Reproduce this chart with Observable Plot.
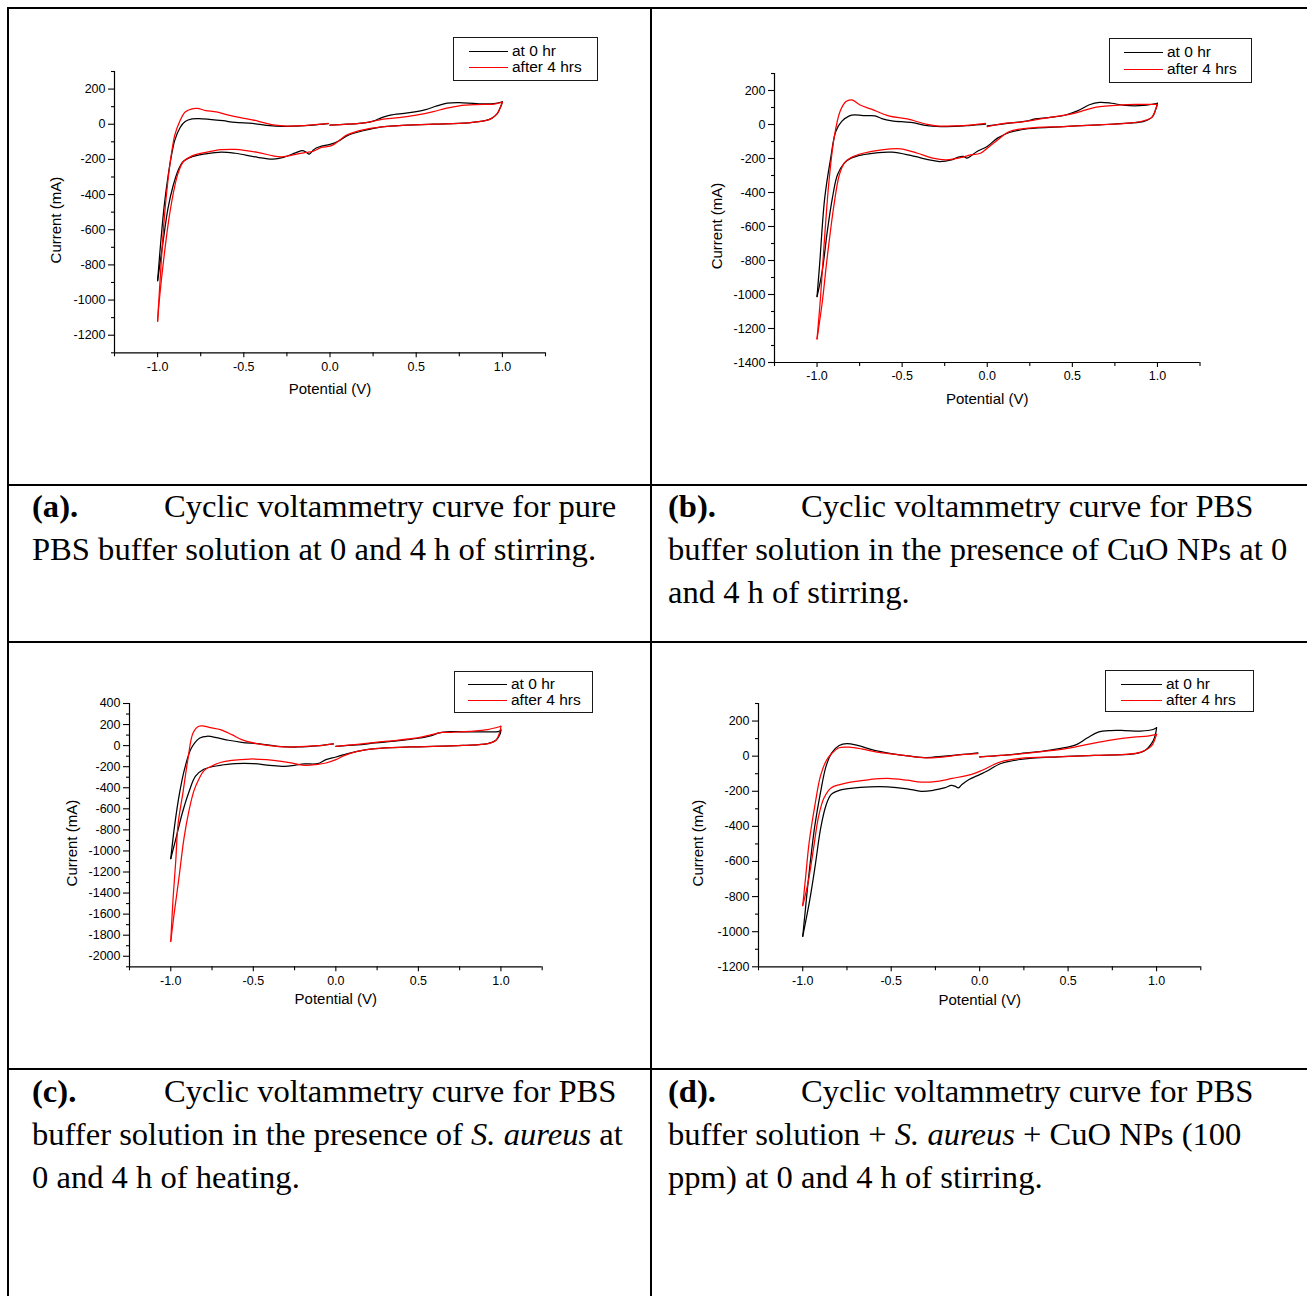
<!DOCTYPE html>
<html>
<head>
<meta charset="utf-8">
<script src="https://cdn.jsdelivr.net/npm/d3@7"></script>
<script src="https://cdn.jsdelivr.net/npm/@observablehq/plot@0.6"></script>
<style>
  html, body { margin: 0; padding: 0; background: #fff; }
  #page { position: relative; width: 1307px; height: 1296px; overflow: hidden; background: #fff; }
  .rule { position: absolute; background: #000; }
  .chart { position: absolute; }
  .cap { position: absolute; font-family: "Liberation Serif", "Times New Roman", serif; font-size: 32.6px;
         line-height: 43px; white-space: nowrap; color: #000; }
  .legend { position: absolute; box-sizing: border-box; border: 1px solid #1a1a1a; background: #fff;
            font-family: "Liberation Sans", Arial, sans-serif; font-size: 15.5px; color: #000; }
  .legend .row { position: absolute; left: 0; height: 16px; line-height: 16px; white-space: nowrap; }
  .legend .swatch { position: absolute; height: 0; border-top: 1.3px solid; top: 8px; }
  .legend .lab { position: absolute; top: 0; }
</style>
</head>
<body>
<div id="page"></div>
<script>
// Cyclic voltammograms: [potential (V), current (mA)] in sweep order,
// 0 V -> +1.0 V -> -1.0 V -> back to 0 V.

// (a) pure PBS buffer
const pbs0h = [
  [0.00,-5],[0.10,0],[0.20,8],[0.25,18],[0.30,38],[0.35,52],[0.45,64],[0.55,82],[0.62,104],[0.68,120],[0.75,123],[0.85,117],[0.95,117],[1.00,128],
  [0.99,100],[0.97,60],[0.94,35],[0.90,20],[0.80,8],[0.60,0],[0.40,-8],[0.30,-15],[0.20,-35],[0.10,-65],[0.05,-95],[0.00,-115],[-0.05,-125],[-0.08,-135],[-0.10,-150],[-0.12,-170],[-0.14,-158],[-0.16,-150],[-0.20,-163],[-0.27,-188],[-0.33,-198],[-0.42,-188],[-0.55,-165],[-0.63,-158],[-0.72,-168],[-0.80,-185],[-0.85,-210],[-0.88,-260],[-0.91,-350],[-0.94,-480],[-0.97,-680],[-1.00,-890],
  [-0.98,-650],[-0.96,-450],[-0.94,-300],[-0.92,-180],[-0.90,-90],[-0.87,-20],[-0.84,15],[-0.80,30],[-0.76,32],[-0.70,28],[-0.62,20],[-0.55,10],[-0.45,5],[-0.35,-8],[-0.28,-12],[-0.20,-10],[-0.10,-5],[-0.01,3]
];
const pbs4h = [
  [0.00,-5],[0.10,0],[0.20,8],[0.25,16],[0.30,28],[0.40,38],[0.50,52],[0.60,72],[0.67,90],[0.75,105],[0.85,112],[0.95,115],[1.00,125],
  [0.99,100],[0.97,60],[0.94,35],[0.90,20],[0.80,8],[0.60,0],[0.40,-8],[0.30,-15],[0.20,-30],[0.10,-60],[0.03,-110],[0.00,-125],[-0.05,-132],[-0.10,-155],[-0.14,-160],[-0.20,-172],[-0.28,-185],[-0.33,-180],[-0.42,-160],[-0.55,-143],[-0.63,-145],[-0.72,-160],[-0.80,-180],[-0.85,-212],[-0.88,-275],[-0.90,-350],[-0.93,-510],[-0.96,-730],[-0.99,-1000],[-1.00,-1120],
  [-0.98,-800],[-0.96,-520],[-0.94,-320],[-0.92,-170],[-0.90,-60],[-0.87,20],[-0.84,70],[-0.80,88],[-0.77,90],[-0.72,78],[-0.66,70],[-0.60,55],[-0.52,38],[-0.45,25],[-0.38,8],[-0.32,-5],[-0.25,-10],[-0.15,-8],[-0.05,0],[-0.01,5]
];

// (b) PBS + CuO NPs
const cuo0h = [
  [0.00,-8],[0.13,8],[0.23,20],[0.28,33],[0.36,41],[0.45,53],[0.53,80],[0.60,116],[0.66,130],[0.73,125],[0.81,112],[0.92,112],[1.00,125],
  [0.99,90],[0.97,45],[0.92,18],[0.83,8],[0.66,-2],[0.45,-12],[0.24,-25],[0.13,-47],[0.06,-80],[0.00,-129],[-0.06,-159],[-0.10,-188],[-0.12,-198],[-0.14,-188],[-0.17,-192],[-0.21,-208],[-0.28,-218],[-0.34,-208],[-0.45,-182],[-0.56,-163],[-0.64,-165],[-0.73,-178],[-0.80,-198],[-0.84,-227],[-0.88,-296],[-0.91,-433],[-0.94,-630],[-0.97,-865],[-1.00,-1012],
  [-0.985,-825],[-0.955,-433],[-0.92,-198],[-0.89,-41],[-0.855,18],[-0.81,51],[-0.78,57],[-0.73,52],[-0.66,51],[-0.62,35],[-0.56,22],[-0.45,12],[-0.34,-8],[-0.24,-12],[-0.11,-6],[-0.01,2]
];
const cuo4h = [
  [0.00,-12],[0.11,8],[0.19,14],[0.28,27],[0.36,41],[0.49,61],[0.58,86],[0.64,102],[0.71,110],[0.79,116],[0.88,118],[1.00,118],
  [0.99,90],[0.97,45],[0.92,22],[0.83,8],[0.66,-2],[0.45,-12],[0.24,-22],[0.13,-41],[0.05,-100],[0.00,-139],[-0.04,-169],[-0.11,-182],[-0.15,-194],[-0.24,-208],[-0.32,-198],[-0.41,-169],[-0.51,-143],[-0.62,-149],[-0.73,-169],[-0.80,-194],[-0.84,-227],[-0.87,-300],[-0.90,-470],[-0.94,-780],[-0.97,-1050],[-1.00,-1261],
  [-0.98,-1022],[-0.96,-727],[-0.93,-335],[-0.90,-80],[-0.865,76],[-0.83,135],[-0.795,145],[-0.75,116],[-0.68,90],[-0.58,51],[-0.47,33],[-0.36,2],[-0.30,-8],[-0.19,-8],[-0.085,-2],[-0.01,6]
];

// (c) PBS + S. aureus
const sa0h = [
  [0.00,-6],[0.13,6],[0.24,25],[0.37,44],[0.50,70],[0.58,95],[0.62,118],[0.69,133],[0.77,130],[0.88,130],[0.99,136],[1.00,150],
  [0.995,110],[0.97,51],[0.92,19],[0.77,3],[0.45,-13],[0.24,-28],[0.13,-54],[0.05,-85],[0.00,-108],[-0.06,-133],[-0.11,-171],[-0.19,-174],[-0.25,-187],[-0.31,-196],[-0.40,-187],[-0.50,-171],[-0.61,-171],[-0.69,-184],[-0.75,-200],[-0.80,-225],[-0.85,-290],[-0.89,-440],[-0.93,-640],[-0.97,-890],[-1.00,-1073],
  [-0.976,-750],[-0.945,-434],[-0.915,-213],[-0.875,-23],[-0.824,72],[-0.78,89],[-0.715,73],[-0.65,51],[-0.57,32],[-0.46,16],[-0.355,-6],[-0.23,-13],[-0.10,0],[-0.015,16]
];
const sa4h = [
  [0.00,-6],[0.13,13],[0.24,32],[0.37,51],[0.50,76],[0.58,104],[0.64,125],[0.71,127],[0.81,136],[0.92,152],[1.00,184],
  [0.995,140],[0.97,51],[0.92,19],[0.77,3],[0.45,-13],[0.24,-28],[0.13,-54],[0.05,-95],[0.00,-133],[-0.06,-165],[-0.12,-180],[-0.185,-187],[-0.25,-171],[-0.33,-149],[-0.42,-133],[-0.52,-127],[-0.63,-139],[-0.70,-160],[-0.76,-200],[-0.80,-240],[-0.83,-320],[-0.86,-430],[-0.89,-620],[-0.92,-880],[-0.95,-1250],[-0.98,-1600],[-1.00,-1858],
  [-0.986,-1450],[-0.97,-1100],[-0.956,-748],[-0.925,-434],[-0.895,-118],[-0.865,120],[-0.83,184],[-0.80,186],[-0.76,170],[-0.70,152],[-0.63,104],[-0.57,57],[-0.48,19],[-0.40,0],[-0.29,-13],[-0.185,-6],[-0.08,3],[-0.015,16]
];

// (d) PBS + S. aureus + CuO NPs (100 ppm)
const mix0h = [
  [0.00,-4],[0.12,4],[0.23,15],[0.36,29],[0.48,48],[0.55,67],[0.61,105],[0.67,137],[0.74,146],[0.82,146],[0.91,143],[0.98,152],[1.00,162],
  [0.995,130],[0.98,86],[0.93,29],[0.87,13],[0.65,4],[0.44,-4],[0.23,-19],[0.12,-42],[0.04,-86],[0.00,-105],[-0.06,-133],[-0.10,-162],[-0.12,-181],[-0.14,-171],[-0.16,-167],[-0.20,-181],[-0.26,-194],[-0.33,-200],[-0.41,-186],[-0.52,-175],[-0.62,-175],[-0.73,-184],[-0.79,-194],[-0.84,-219],[-0.87,-285],[-0.90,-418],[-0.93,-627],[-0.96,-817],[-1.00,-1026],
  [-0.985,-874],[-0.964,-665],[-0.932,-399],[-0.90,-209],[-0.868,-57],[-0.836,19],[-0.794,61],[-0.75,72],[-0.69,61],[-0.60,34],[-0.50,15],[-0.39,0],[-0.30,-8],[-0.20,0],[-0.09,10],[-0.01,19]
];
const mix4h = [
  [0.00,-4],[0.12,4],[0.23,13],[0.36,27],[0.48,42],[0.61,67],[0.74,91],[0.87,108],[0.95,114],[1.00,124],
  [0.99,95],[0.97,57],[0.91,23],[0.82,10],[0.65,4],[0.44,-4],[0.23,-13],[0.12,-32],[0.015,-80],[-0.05,-105],[-0.155,-127],[-0.24,-143],[-0.33,-148],[-0.41,-137],[-0.52,-127],[-0.62,-133],[-0.73,-148],[-0.79,-162],[-0.84,-181],[-0.88,-238],[-0.91,-342],[-0.94,-532],[-0.97,-722],[-1.00,-851],
  [-0.985,-703],[-0.964,-494],[-0.932,-285],[-0.90,-114],[-0.868,-28],[-0.836,15],[-0.794,48],[-0.74,51],[-0.67,42],[-0.58,23],[-0.47,10],[-0.37,-4],[-0.28,-10],[-0.20,-4],[-0.09,10],[-0.01,15]
];

// Series names and colours
const seriesNames = ["at 0 hr", "after 4 hrs"];
const seriesColors = ["#000000", "#ff0000"];

// Axis ticks
const xMajor = [-1.0, -0.5, 0.0, 0.5, 1.0];
const xMinor = [-1.25, -0.75, -0.25, 0.25, 0.75, 1.25];
const yMajorA = [-1200, -1000, -800, -600, -400, -200, 0, 200];
const yMinorA = [-1300, -1100, -900, -700, -500, -300, -100, 100, 300];
const yMajorB = [-1400, -1200, -1000, -800, -600, -400, -200, 0, 200];
const yMinorB = [-1300, -1100, -900, -700, -500, -300, -100, 100, 300];
const yMajorC = [-2000, -1800, -1600, -1400, -1200, -1000, -800, -600, -400, -200, 0, 200, 400];
const yMinorC = [-2100, -1900, -1700, -1500, -1300, -1100, -900, -700, -500, -300, -100, 100, 300];
const yMajorD = [-1200, -1000, -800, -600, -400, -200, 0, 200];
const yMinorD = [-1100, -900, -700, -500, -300, -100, 100, 300];

// Panel layout on the page (frame edges in px) and legend boxes
const panels = [
  {series: [pbs0h, pbs4h], yDomain: [-1300, 300], yMajor: yMajorA, yMinor: yMinorA,
   frameX: [114.3, 545.3], frameY: [70.7, 352], xTitleDy: 41, yTitleDx: -58,
   legend: {left: 453, top: 37, width: 145, height: 44, line: 15, text: 58, row1: 5, row2: 21}},
  {series: [cuo0h, cuo4h], yDomain: [-1400, 300], yMajor: yMajorB, yMinor: yMinorB,
   frameX: [774, 1199.5], frameY: [72.7, 361.7], xTitleDy: 41, yTitleDx: -57,
   legend: {left: 1109, top: 38, width: 143, height: 45, line: 14, text: 57, row1: 5, row2: 22}},
  {series: [sa0h, sa4h], yDomain: [-2100, 400], yMajor: yMajorC, yMinor: yMinorC,
   frameX: [129.3, 542], frameY: [702.7, 966], xTitleDy: 37, yTitleDx: -57,
   legend: {left: 454, top: 671, width: 139, height: 42, line: 13, text: 56, row1: 4, row2: 20}},
  {series: [mix0h, mix4h], yDomain: [-1200, 300], yMajor: yMajorD, yMinor: yMinorD,
   frameX: [757.7, 1200], frameY: [702.7, 966], xTitleDy: 38, yTitleDx: -60,
   legend: {left: 1105, top: 670, width: 149, height: 42, line: 15, text: 60, row1: 5, row2: 21}}
];

const page = document.getElementById("page");

// Split a sweep into its three branches at the two vertex potentials
function branches(points) {
  const iMax = d3.maxIndex(points, d => d[0]);
  const iMin = d3.minIndex(points, d => d[0]);
  return [points.slice(0, iMax + 1), points.slice(iMax, iMin + 1), points.slice(iMin)];
}

function drawPanel(p) {
  const ml = 90, mr = 14, mt = 12, mb = 56;
  const width = (p.frameX[1] - p.frameX[0]) + ml + mr;
  const height = (p.frameY[1] - p.frameY[0]) + mt + mb;
  const lines = p.series.map((pts, s) => {
    const rows = [];
    branches(pts).forEach((seg, k) => seg.forEach(([v, i]) => rows.push({v, i, k})));
    return Plot.line(rows, {x: "v", y: "i", z: "k", stroke: seriesColors[s], strokeWidth: 1.25, curve: "catmull-rom"});
  });
  const svg = Plot.plot({
    width, height,
    marginLeft: ml, marginRight: mr, marginTop: mt, marginBottom: mb,
    style: {fontFamily: '"Liberation Sans", Arial, sans-serif', fontSize: "12.5px", color: "#000", background: "transparent", overflow: "visible"},
    x: {domain: [-1.25, 1.25], label: null},
    y: {domain: p.yDomain, label: null},
    marks: [
      Plot.axisY({ticks: p.yMinor, tickSize: 3, tickFormat: () => "", label: null, strokeWidth: 1.1}),
      Plot.axisY({ticks: p.yMajor, tickSize: 6, tickPadding: 3, tickFormat: d => String(d), label: null, strokeWidth: 1.1}),
      Plot.axisX({ticks: xMinor, tickSize: 4, tickFormat: () => "", label: null, strokeWidth: 1.1}),
      Plot.axisX({ticks: xMajor, tickSize: 5, tickPadding: 4, tickFormat: d => d.toFixed(1), label: null, strokeWidth: 1.1}),
      Plot.ruleX([-1.25], {stroke: "#000", strokeWidth: 1.2}),
      Plot.ruleY([p.yDomain[0]], {stroke: "#000", strokeWidth: 1.2}),
      ...lines,
      Plot.text(["Potential (V)"], {frameAnchor: "bottom", textAnchor: "middle", dy: p.xTitleDy, fontSize: 15, fill: "#000"}),
      Plot.text(["Current (mA)"], {frameAnchor: "left", textAnchor: "middle", dx: p.yTitleDx, dy: 8, rotate: -90, fontSize: 15, fill: "#000"})
    ]
  });
  const holder = document.createElement("div");
  holder.className = "chart";
  holder.style.left = (p.frameX[0] - ml) + "px";
  holder.style.top = (p.frameY[0] - mt) + "px";
  holder.appendChild(svg);
  page.appendChild(holder);

  // Legend box
  const L = p.legend;
  const box = document.createElement("div");
  box.className = "legend";
  Object.assign(box.style, {left: L.left + "px", top: L.top + "px", width: L.width + "px", height: L.height + "px"});
  [L.row1, L.row2].forEach((top, s) => {
    const row = document.createElement("div");
    row.className = "row";
    row.style.top = top + "px";
    row.style.width = L.width + "px";
    const sw = document.createElement("div");
    sw.className = "swatch";
    Object.assign(sw.style, {left: L.line + "px", width: (L.text - L.line - 4) + "px", borderTopColor: seriesColors[s]});
    const lab = document.createElement("span");
    lab.className = "lab";
    lab.style.left = L.text + "px";
    lab.textContent = seriesNames[s];
    row.appendChild(sw);
    row.appendChild(lab);
    box.appendChild(row);
  });
  page.appendChild(box);
}

panels.forEach(drawPanel);

// Table rules
const rules = [
  {left: 7, top: 7, width: 1300, height: 2},
  {left: 7, top: 7, width: 2, height: 1289},
  {left: 650, top: 7, width: 2, height: 1289},
  {left: 7, top: 484, width: 1300, height: 2},
  {left: 7, top: 641, width: 1300, height: 2},
  {left: 7, top: 1068, width: 1300, height: 2}
];
rules.forEach(r => {
  const d = document.createElement("div");
  d.className = "rule";
  Object.assign(d.style, {left: r.left + "px", top: r.top + "px", width: r.width + "px", height: r.height + "px"});
  page.appendChild(d);
});

// Captions
const captions = [
  {x: 32, tab: 164, top: 485, tag: "(a).", first: "Cyclic voltammetry curve for pure",
   rest: ["PBS buffer solution at 0 and 4 h of stirring."]},
  {x: 668, tab: 801, top: 485, tag: "(b).", first: "Cyclic voltammetry curve for PBS",
   rest: ["buffer solution in the presence of CuO NPs at 0", "and 4 h of stirring."]},
  {x: 32, tab: 164, top: 1070, tag: "(c).", first: "Cyclic voltammetry curve for PBS",
   rest: ["buffer solution in the presence of <i>S. aureus</i> at", "0 and 4 h of heating."]},
  {x: 668, tab: 801, top: 1070, tag: "(d).", first: "Cyclic voltammetry curve for PBS",
   rest: ["buffer solution + <i>S. aureus</i> + CuO NPs (100", "ppm) at 0 and 4 h of stirring."]}
];
captions.forEach(c => {
  const add = (html, left, top) => {
    const d = document.createElement("div");
    d.className = "cap";
    d.style.left = left + "px";
    d.style.top = top + "px";
    d.innerHTML = html;
    page.appendChild(d);
  };
  add("<b>" + c.tag + "</b>", c.x, c.top);
  add(c.first, c.tab, c.top);
  c.rest.forEach((line, i) => add(line, c.x, c.top + 43 * (i + 1)));
});
</script>
</body>
</html>
